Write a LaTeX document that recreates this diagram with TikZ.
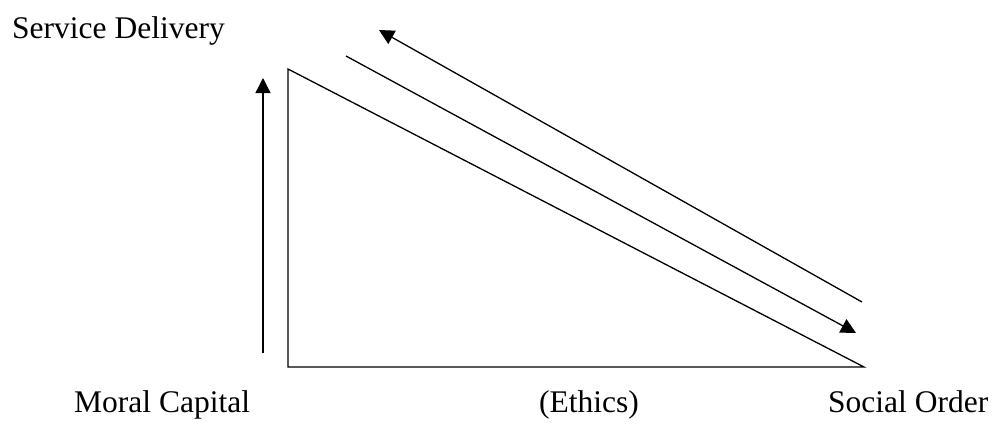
\documentclass[tikz,border=0pt]{standalone}
\usepackage{fontspec}
\setmainfont{Liberation Serif}
\usetikzlibrary{arrows.meta}
\begin{document}
\begin{tikzpicture}[x=1pt,y=-1pt,
  lbl/.style={anchor=base west,inner sep=0pt,font=\fontsize{31.5}{36}\selectfont},
  ln/.style={line width=1.3pt},
  arr/.style={ln,-{Triangle[length=15pt,width=15pt]}}]
\useasboundingbox (0,0) rectangle (997,426);
% labels
\node[lbl] (sd) at (12,38) {Service Delivery};
\node[lbl] (mc) at (74,412) {Moral Capital};
\node[lbl] (et) at (539,412) {(Ethics)};
\node[lbl] (so) at (828,412) {Social Order};
% coordinates
\coordinate (va) at (263,353);
\coordinate (vb) at (263,78);
\coordinate (t1) at (288,69);
\coordinate (t2) at (288,367);
\coordinate (t3) at (864,367);
\coordinate (ua) at (862,302);
\coordinate (ub) at (379,30);
\coordinate (ma) at (346,56);
\coordinate (mb) at (856,333);
% drawing
\draw[arr] (va) -- (vb);
\draw[ln,line join=miter] (t1) -- (t2) -- (t3) -- cycle;
\draw[arr] (ua) -- (ub);
\draw[arr] (ma) -- (mb);
\end{tikzpicture}
\end{document}
